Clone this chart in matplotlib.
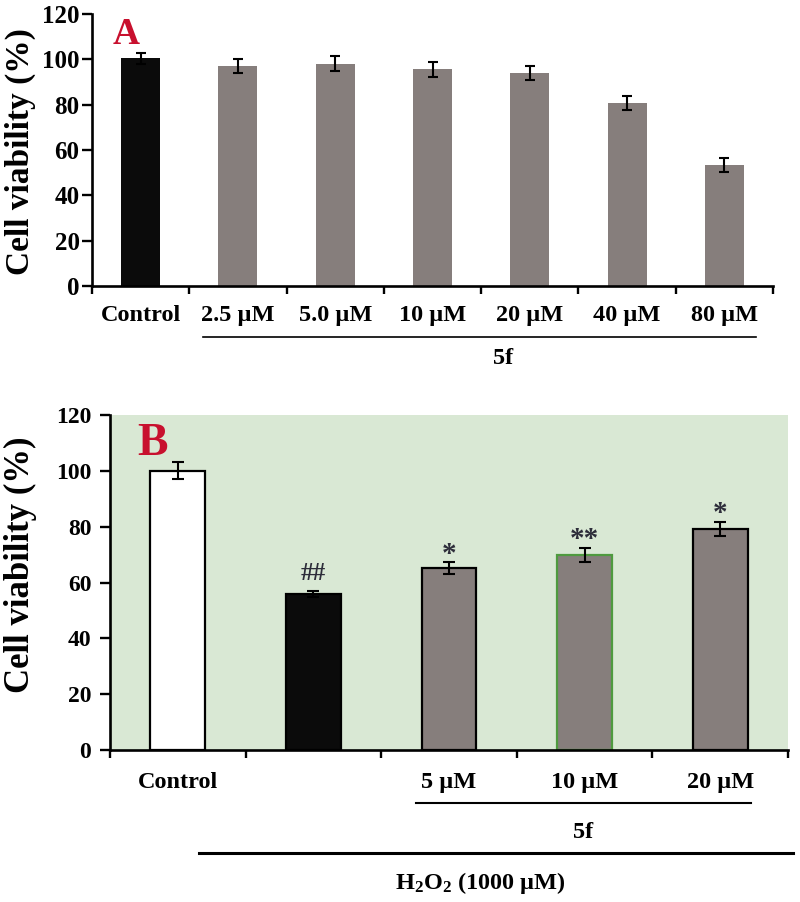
import numpy as np
import matplotlib
matplotlib.use("Agg")
import matplotlib.pyplot as plt

plt.rcParams['font.family'] = ['Liberation Serif', 'DejaVu Serif']
plt.rcParams['font.weight'] = 'bold'
plt.rcParams['mathtext.fontset'] = 'custom'
plt.rcParams['mathtext.rm'] = 'Liberation Serif:bold'

# panel A data
a_labels = ['Control', '2.5 µM', '5.0 µM', '10 µM', '20 µM', '40 µM', '80 µM']
a_values = [100.4, 97.0, 98.1, 95.7, 94.0, 80.7, 53.4]
a_errors = [2.5, 3.0, 3.2, 3.3, 3.0, 3.0, 3.0]

# panel B data
b_labels = ['Control', '', '5 µM', '10 µM', '20 µM']
b_values = [100.0, 55.9, 65.1, 70.0, 79.2]
b_errors = [3.0, 1.0, 2.1, 2.5, 2.6]
b_marks = ['', '##', '*', '**', '*']

yticks = [0, 20, 40, 60, 80, 100, 120]

W, H = 800, 902
fig = plt.figure(figsize=(W / 100, H / 100), dpi=100)


def px_axes(left, top, right, bottom):
    return fig.add_axes([left / W, 1 - bottom / H, (right - left) / W, (bottom - top) / H])


def style_axes(ax, n, pad, size):
    ax.set_xlim(0, n)
    ax.set_ylim(0, 120)
    ax.set_xticks(range(n + 1))
    ax.set_xticklabels([])
    ax.set_yticks(yticks)
    ax.tick_params(axis='y', direction='out', length=7, width=1.7, labelsize=size, pad=pad)
    ax.tick_params(axis='x', direction='out', length=6, width=1.7)
    for s in ['top', 'right']:
        ax.spines[s].set_visible(False)
    for s in ['left', 'bottom']:
        ax.spines[s].set_linewidth(1.9)


# ---------------- panel A ----------------
axA = px_axes(92, 14, 773, 286)
xa = np.arange(len(a_values)) + 0.5
a_colors = ['#0b0b0b'] + ['#867e7c'] * (len(a_values) - 1)
axA.bar(xa, a_values, width=0.4, color=a_colors, edgecolor='none', zorder=2)
axA.errorbar(xa, a_values, yerr=a_errors, fmt='none', ecolor='black',
             elinewidth=1.5, capsize=3.5, capthick=1.5, zorder=3)
style_axes(axA, len(a_values), 2, 18)
trA = axA.get_xaxis_transform()
for x, lab in zip(xa, a_labels):
    axA.text(x, -0.107, lab, transform=trA, ha='center', va='center', fontsize=17.5)
axA.plot([1.14, 6.83], [-0.187, -0.187], transform=trA, color='black', lw=1.2, clip_on=False)
axA.text(4.23, -0.265, '5f', transform=trA, ha='center', va='center', fontsize=17.5)
fig.text(126 / W, 1 - 35 / H, 'A', color='#c8102e', fontsize=27, ha='center', va='center')
fig.text(20 / W, 1 - 152 / H, 'Cell viability (%)', rotation=90, ha='center', va='center',
         fontsize=24)

# ---------------- panel B ----------------
axB = px_axes(110, 415, 788, 750)
axB.set_facecolor('#d9e8d4')
xb = np.arange(len(b_values)) + 0.5
b_colors = ['white', '#0b0b0b', '#867e7c', '#867e7c', '#867e7c']
b_edges = ['black', 'black', 'black', '#4f9a3f', 'black']
axB.bar(xb, b_values, width=0.405, color=b_colors, edgecolor=b_edges, linewidth=1.6, zorder=2)
axB.errorbar(xb, b_values, yerr=b_errors, fmt='none', ecolor='black',
             elinewidth=1.5, capsize=4, capthick=1.5, zorder=3)
for x, v, e, m in zip(xb, b_values, b_errors, b_marks):
    if m:
        hashes = m.startswith('#')
        axB.annotate(m, (x, v + e), xytext=(0, 8 if hashes else 0.5),
                     textcoords='offset points', ha='center', va='baseline',
                     fontsize=18 if hashes else 21, color='#2d2d3a')
style_axes(axB, len(b_values), 6.5, 17)
trB = axB.get_xaxis_transform()
for x, lab in zip(xb, b_labels):
    if lab:
        axB.text(x, -0.0985, lab, transform=trB, ha='center', va='center', fontsize=17.5)
axB.plot([2.26, 4.73], [-0.158, -0.158], transform=trB, color='black', lw=1.5, clip_on=False)
axB.text(3.49, -0.245, '5f', transform=trB, ha='center', va='center', fontsize=17.5)
axB.plot([0.66, 5.04], [-0.307, -0.307], transform=trB, color='black', lw=2.2, clip_on=False)
axB.text(2.73, -0.397, r'$\mathrm{H_2O_2}$ (1000 µM)', transform=trB, ha='center',
         va='center', fontsize=17.5)
fig.text(152 / W, 1 - 444 / H, 'B', color='#c8102e', fontsize=33, ha='center', va='center')
fig.text(20 / W, 1 - 565 / H, 'Cell viability (%)', rotation=90, ha='center', va='center',
         fontsize=25)

fig.savefig('out.png', dpi=100)
